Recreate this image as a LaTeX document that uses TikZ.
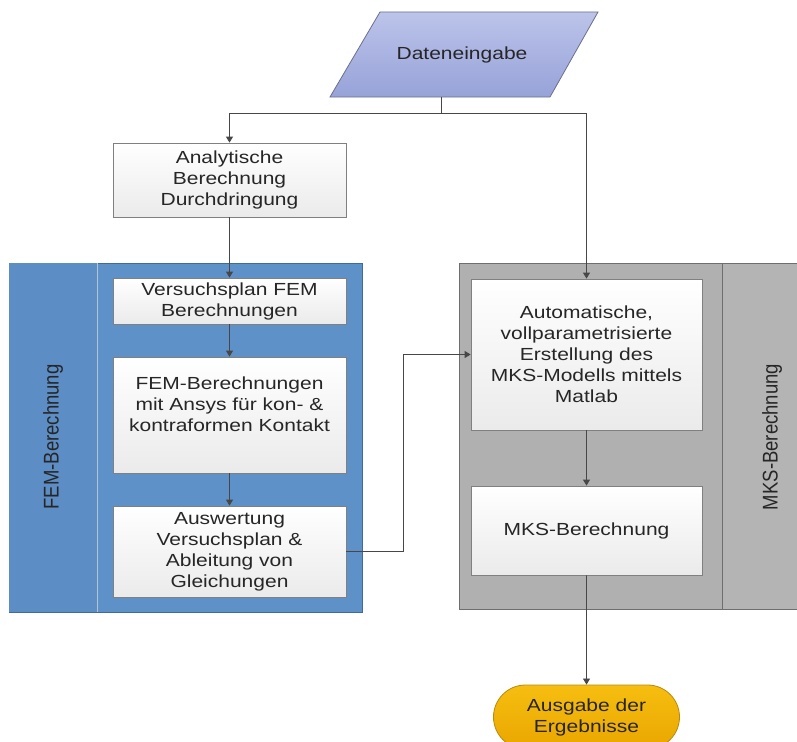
\documentclass[tikz,border=0pt]{standalone}
\usepackage{fontspec}
\setmainfont{Liberation Sans}
\newfontfamily\boxfont[FakeStretch=1.2]{Liberation Sans}
\newfontfamily\labfont{Liberation Sans}
\usetikzlibrary{arrows.meta,shapes.misc}
\definecolor{txt}{HTML}{262626}
\definecolor{femfill}{HTML}{5F91C9}
\definecolor{femcol}{HTML}{5C8DC5}
\definecolor{femline}{HTML}{3F6A9C}
\definecolor{femdiv}{HTML}{B4C2D4}
\definecolor{mksfill}{HTML}{B0B0B0}
\definecolor{mkscol}{HTML}{B4B4B4}
\definecolor{mksline}{HTML}{6E6E6E}
\definecolor{dataTop}{HTML}{BCC4EA}
\definecolor{dataBot}{HTML}{97A2D8}
\definecolor{dataLine}{HTML}{6B6F8C}
\definecolor{outTop}{HTML}{F6BE10}
\definecolor{outBot}{HTML}{EAA600}
\definecolor{outLine}{HTML}{B98A0A}
\definecolor{arrowc}{HTML}{474747}
\definecolor{boxline}{HTML}{808080}
\tikzset{
  proc/.style={draw=boxline, line width=0.8bp, top color=white, bottom color=black!8,
    minimum width=233bp, inner sep=0pt, align=center, text=txt,
    font=\boxfont\fontsize{17.5bp}{21bp}\selectfont},
  term/.style={rounded rectangle, draw=outLine, line width=0.8bp, top color=outTop, bottom color=outBot,
    minimum width=186bp, minimum height=64bp, inner sep=0pt, align=center, text=black!85,
    font=\boxfont\fontsize{17.5bp}{21bp}\selectfont},
  sidelab/.style={rotate=90, text=txt, font=\labfont\fontsize{18.5bp}{22bp}\selectfont},
  conn/.style={draw=arrowc, line width=0.8bp},
  arr/.style={conn, -{Triangle[length=6bp,width=7bp]}},
}
\begin{document}
\begin{tikzpicture}[x=1bp,y=-1bp]
\useasboundingbox (0,0) rectangle (797,742);
\fill[white] (0,0) rectangle (797,742);
% input parallelogram
\path[draw=dataLine, line width=0.8bp, top color=dataTop, bottom color=dataBot]
  (380,12) -- (598,12) -- (550,97) -- (330,97) -- cycle;
\node[text=txt, font=\boxfont\fontsize{17.5bp}{21bp}\selectfont] (data) at (462,55) {Dateneingabe};
\coordinate (databot) at (441,97);
\coordinate (j) at (441,113);
% swimlane panels
\filldraw[fill=femfill, draw=femline, line width=0.8bp] (9,263) rectangle (362,612);
\fill[femcol] (9.4,263.4) rectangle (97,611.6);
\draw[femdiv, line width=1bp] (97,263.4) -- (97,611.6);
\filldraw[fill=mksfill, draw=mksline, line width=0.8bp] (459,263) rectangle (805,609);
\filldraw[fill=mkscol, draw=mksline, line width=0.8bp] (722,263) rectangle (805,609);
\node[sidelab] (femlab) at (53,437) {\scalebox{1}[1.15]{FEM-Berechnung}};
\node[sidelab] (mkslab) at (772,437) {\scalebox{1}[1.15]{MKS-Berechnung}};
% process boxes
\node[proc, minimum height=74bp] (ana) at (229.5,180) {Analytische\\Berechnung\\Durchdringung};
\node[proc, minimum height=46bp] (vp) at (229.5,301) {Versuchsplan FEM\\Berechnungen};
\node[proc, minimum height=116bp] (fem) at (229.5,415) {FEM-Berechnungen\\mit Ansys für kon- \&\\kontraformen Kontakt\\\mbox{}};
\node[proc, minimum height=91bp] (ausw) at (229.5,551.5) {Auswertung\\Versuchsplan \&\\Ableitung von\\Gleichungen};
\node[proc, minimum width=231bp, minimum height=151bp] (auto) at (586.5,354.5) {Automatische,\\vollparametrisierte\\Erstellung des\\MKS-Modells mittels\\Matlab};
\node[proc, minimum width=231bp, minimum height=89bp] (mks) at (586.5,530.5) {MKS-Berechnung};
\node[term] (out) at (586.5,717) {Ausgabe der\\Ergebnisse};
\coordinate (kink) at (403,0);
% connectors
\draw[conn] (databot) -- (j);
\draw[arr] (j) -| (ana.north);
\draw[arr] (j) -| (auto.north);
\draw[arr] (ana) -- (vp);
\draw[arr] (vp) -- (fem);
\draw[arr] (fem) -- (ausw);
\draw[arr] (ausw.east) -- (ausw.east -| kink) -- (auto.west -| kink) -- (auto.west);
\draw[arr] (auto) -- (mks);
\draw[arr] (mks) -- (out);
\end{tikzpicture}
\end{document}
